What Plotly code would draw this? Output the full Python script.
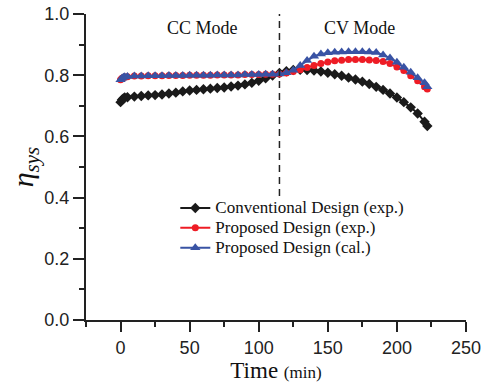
import plotly.graph_objects as go

# ---- data ----
time_min = [0, 1, 2, 3, 5, 10, 15, 20, 25, 30, 35, 40, 45, 50, 55, 60, 65, 70, 75, 80,
            85, 90, 95, 100, 105, 110, 115, 120, 125, 130, 135, 140, 145, 150, 155, 160,
            165, 170, 175, 180, 185, 190, 195, 200, 205, 210, 215, 220, 222]

conv_exp = [0.712, 0.720, 0.724, 0.727, 0.728, 0.730, 0.732, 0.734, 0.735, 0.737, 0.740,
            0.743, 0.747, 0.750, 0.752, 0.754, 0.756, 0.758, 0.760, 0.763, 0.766, 0.770,
            0.775, 0.782, 0.790, 0.799, 0.807, 0.813, 0.817, 0.818, 0.817, 0.815, 0.812,
            0.808, 0.803, 0.798, 0.792, 0.786, 0.779, 0.771, 0.762, 0.752, 0.740, 0.727,
            0.712, 0.695, 0.675, 0.648, 0.634]

prop_exp = [0.785, 0.790, 0.792, 0.794, 0.795, 0.797, 0.797, 0.798, 0.798, 0.798, 0.799,
            0.799, 0.799, 0.800, 0.800, 0.800, 0.800, 0.801, 0.801, 0.801, 0.801, 0.802,
            0.802, 0.802, 0.803, 0.803, 0.804, 0.807, 0.812, 0.818, 0.825, 0.832, 0.838,
            0.843, 0.847, 0.849, 0.851, 0.851, 0.851, 0.850, 0.848, 0.845, 0.838, 0.827,
            0.815, 0.798, 0.782, 0.762, 0.755]

prop_cal = [0.785, 0.790, 0.793, 0.795, 0.796, 0.797, 0.797, 0.798, 0.798, 0.798, 0.799,
            0.799, 0.799, 0.800, 0.800, 0.800, 0.800, 0.801, 0.801, 0.801, 0.801, 0.802,
            0.802, 0.802, 0.803, 0.803, 0.804, 0.808, 0.816, 0.832, 0.848, 0.862, 0.869,
            0.873, 0.875, 0.876, 0.877, 0.877, 0.877, 0.876, 0.874, 0.866, 0.856, 0.842,
            0.826, 0.810, 0.792, 0.775, 0.762]

series_names = ["Conventional Design (exp.)", "Proposed Design (exp.)", "Proposed Design (cal.)"]
mode_switch = 115
x_ticks = [0, 50, 100, 150, 200, 250]
y_ticks = [0.0, 0.2, 0.4, 0.6, 0.8, 1.0]

serif = "Liberation Serif, Times New Roman, serif"
sans = "Liberation Sans, Arial, sans-serif"


def leg(name):
    return "<span style='font-size:17px'>" + name + "</span>"


fig = go.Figure()
fig.add_trace(go.Scatter(
    x=time_min, y=conv_exp, mode="lines+markers", name=leg(series_names[0]),
    line=dict(color="#1a1a1a", width=2),
    marker=dict(symbol="diamond", size=8, color="#1a1a1a")))
fig.add_trace(go.Scatter(
    x=time_min, y=prop_exp, mode="lines+markers", name=leg(series_names[1]),
    line=dict(color="#ee1c25", width=2),
    marker=dict(symbol="circle", size=7, color="#ee1c25")))
fig.add_trace(go.Scatter(
    x=time_min, y=prop_cal, mode="lines+markers", name=leg(series_names[2]),
    line=dict(color="#3953a4", width=2),
    marker=dict(symbol="triangle-up", size=9, color="#3953a4")))

fig.add_shape(type="line", x0=mode_switch, x1=mode_switch, y0=0.405, y1=1.0,
              xref="x", yref="y", line=dict(color="#222222", width=1.5, dash="7px,5px"))

fig.add_annotation(x=59, y=0.955, xref="x", yref="y", text="CC Mode", showarrow=False,
                   font=dict(family=serif, size=18, color="#111"))
fig.add_annotation(x=173, y=0.955, xref="x", yref="y", text="CV Mode", showarrow=False,
                   font=dict(family=serif, size=18, color="#111"))

fig.update_layout(
    width=489, height=388,
    margin=dict(l=86, r=23, t=14, b=68, autoexpand=False),
    paper_bgcolor="white", plot_bgcolor="white",
    showlegend=True,
    legend=dict(x=0.235, y=0.415, xanchor="left", yanchor="top",
                bgcolor="rgba(0,0,0,0)", font=dict(family=serif, size=13, color="#111"),
                itemwidth=30, tracegroupgap=0),
    xaxis=dict(range=[-25, 250], tickvals=x_ticks, showgrid=False, zeroline=False,
               automargin=False,
               showline=True, linecolor="#222", linewidth=2,
               ticks="outside", ticklen=10, tickwidth=2, tickcolor="#222",
               minor=dict(dtick=25, tick0=0, ticks="outside", ticklen=5, tickwidth=2, tickcolor="#222"),
               tickfont=dict(family=sans, size=18, color="#222"),
               title=dict(text="Time <span style='font-size:17px'>(min)</span>",
                          font=dict(family=serif, size=23, color="#111"), standoff=5)),
    yaxis=dict(range=[0, 1.0], tickvals=y_ticks, tickformat=".1f", showgrid=False, zeroline=False,
               automargin=False,
               showline=True, linecolor="#222", linewidth=2,
               ticks="outside", ticklen=11, tickwidth=2, tickcolor="#222",
               minor=dict(dtick=0.1, tick0=0, ticks="outside", ticklen=5, tickwidth=2, tickcolor="#222"),
               tickfont=dict(family=sans, size=18, color="#222"),
               title=dict(text="<i>η<sub>sys</sub></i>",
                          font=dict(family=serif, size=30, color="#111"), standoff=2)),
)

fig.write_html("out.html")
